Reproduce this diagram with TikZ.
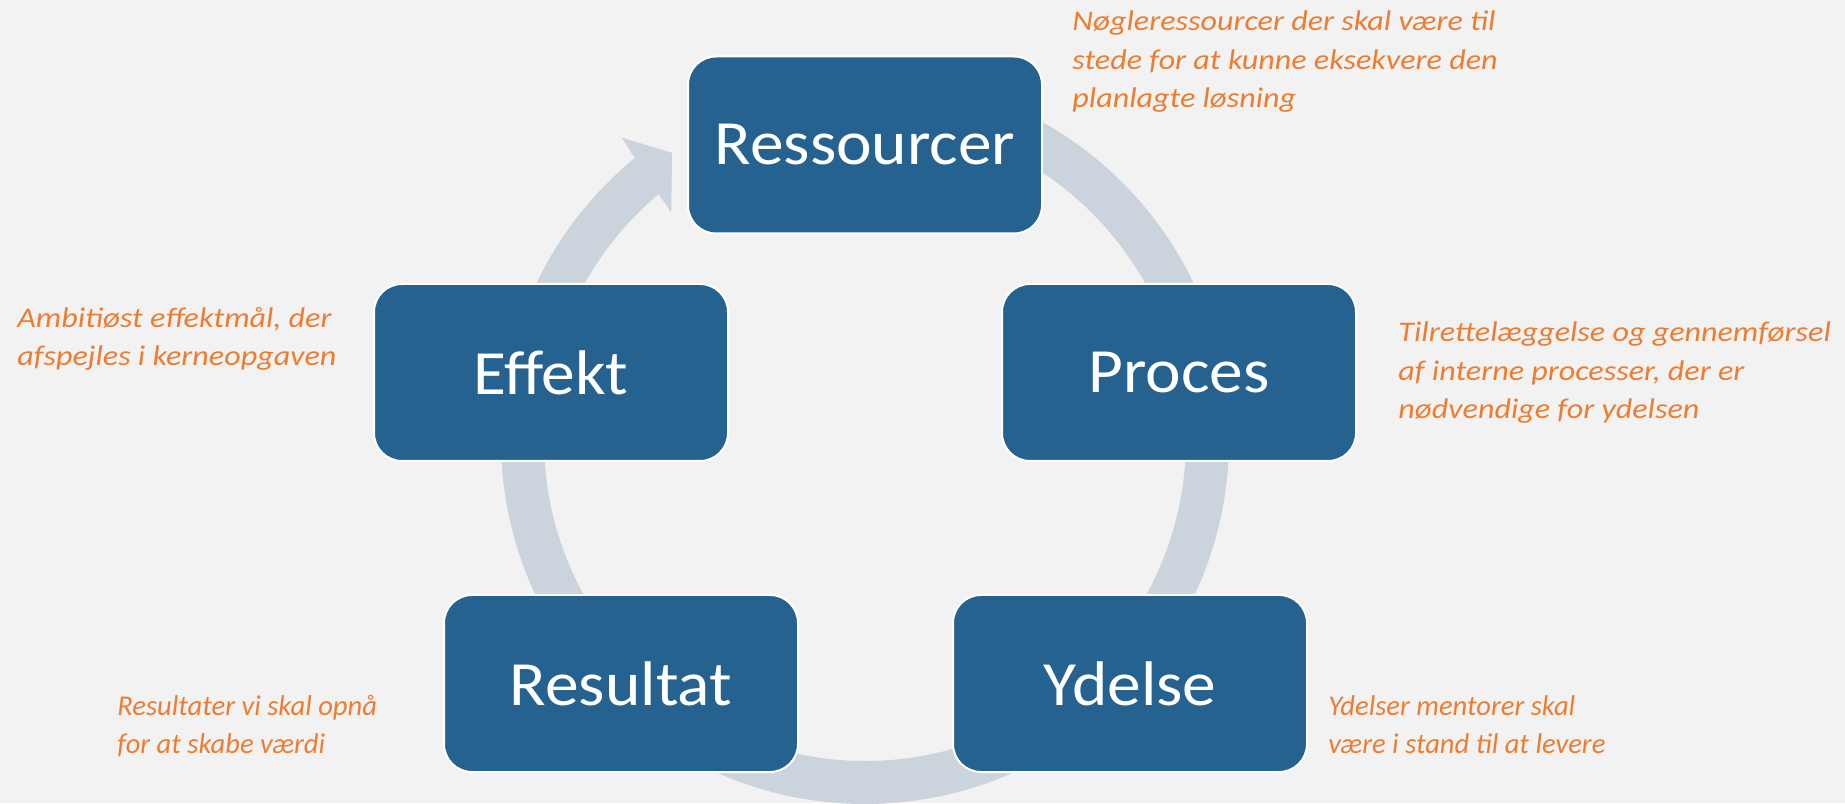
\documentclass[tikz,border=0pt]{standalone}
\usepackage{fontspec}
\setmainfont{Carlito}
\newfontfamily\stagefont{Carlito}[FakeStretch=1.07]
\newfontfamily\notefont{Carlito}[FakeStretch=1.13]
\usepackage{xcolor}
\usetikzlibrary{calc}
\definecolor{bgGray}{HTML}{F2F2F2}
\definecolor{boxBlue}{HTML}{25628F}
\definecolor{ringGray}{HTML}{CBD3DC}
\definecolor{noteOrange}{HTML}{ED7D31}
\tikzset{
    stage/.style={rectangle, rounded corners=14pt, draw=white, line width=1pt, fill=boxBlue, minimum width=177pt, minimum height=88.5pt, text=white, font=\stagefont\fontsize{31.5}{38}\selectfont},
    note/.style={anchor=base west, align=left, inner sep=0pt, text=noteOrange, font=\notefont\itshape\fontsize{14.2}{19.25}\selectfont},
    lowNote/.style={note, font=\itshape\fontsize{14.3}{18.75}\selectfont},
    ring/.style={fill=ringGray, draw=none}
}

\begin{document}
\begin{tikzpicture}[x=0.5pt, y=0.5pt]
        % Background
        \fill[bgGray] (0,0) rectangle (1845,803);
        \useasboundingbox (0,0) rectangle (1845,803);

        % Cycle arrow
        \coordinate (ctr) at (865,363);
        \fill[ring] ($(ctr)+(90:364)$) arc[start angle=90, end angle=-230.75, radius=364]
            -- ($(ctr)+(128.8:388)$) -- ($(ctr)+(123.9:346)$) -- ($(ctr)+(130.4:299)$)
            -- ($(ctr)+(130:321)$) arc[start angle=-230, end angle=90, radius=321] -- cycle;

        % Stages
        \node[stage] (res) at (865,658) {Ressourcer};
        \node[stage] (proc) at (1179,430.5) {Proces};
        \node[stage] (yd) at (1130,119.5) {Ydelse};
        \node[stage] (result) at (621,119.5) {Resultat};
        \node[stage] (eff) at (551,430.5) {Effekt};

        % Notes (anchored at the last line)
        \node[note] (resNote) at (1072,695) {Nøgleressourcer der skal være til\\stede for at kunne eksekvere den\\planlagte løsning};
        \node[note] (procNote) at (1398,384) {Tilrettelæggelse og gennemførsel\\af interne processer, der er\\nødvendige for ydelsen};
        \node[lowNote] (ydNote) at (1328,50) {Ydelser mentorer skal\\være i stand til at levere};
        \node[lowNote] (resultNote) at (117,50) {Resultater vi skal opnå\\for at skabe værdi};
        \node[note] (effNote) at (17,437) {Ambitiøst effektmål, der\\afspejles i kerneopgaven};
    \end{tikzpicture}
\end{document}
